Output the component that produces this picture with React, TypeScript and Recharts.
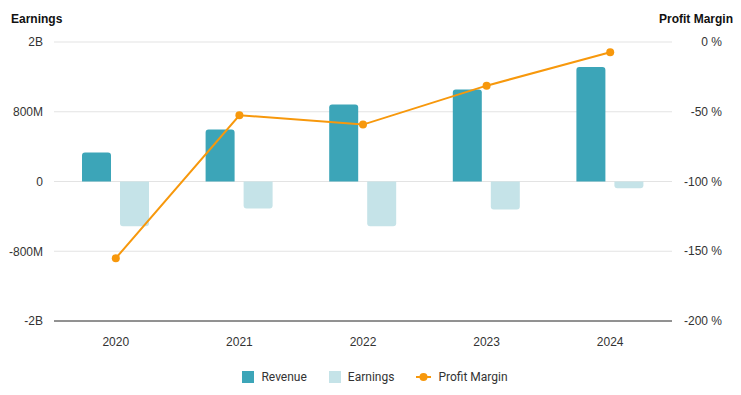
import React from 'react';
import {
  ComposedChart,
  Bar,
  Line,
  XAxis,
  YAxis,
  CartesianGrid,
  Legend,
} from 'recharts';

const years = ['2020', '2021', '2022', '2023', '2024'];
const revenue = [333e6, 597e6, 884e6, 1056e6, 1312e6];
const earnings = [-513e6, -310e6, -513e6, -321e6, -77e6];
const profitMargin = [-155, -52.5, -59.2, -31.3, -7.4];

const leftTicks = [-1.6e9, -8e8, 0, 8e8, 1.6e9];
const rightTicks = [-200, -150, -100, -50, 0];

const REVENUE = '#3ca5b8';
const EARNINGS = '#c5e3e8';
const MARGIN = '#f7980c';
const TEXT = '#333';

const chartData = years.map((year, i) => ({
  year,
  revenue: revenue[i],
  earnings: earnings[i],
  margin: profitMargin[i],
}));

function formatMoney(v: number) {
  if (v === 0) return '0';
  if (Math.abs(v) >= 1e9) return `${Math.round(v / 1e9)}B`;
  return `${Math.round(v / 1e6)}M`;
}

const tickStyle = { fontFamily: 'Arial, "Liberation Sans", sans-serif', fontSize: 12, fill: TEXT };

function RightTick(props: any) {
  const { x, y, payload } = props;
  return (
    <text
      x={x + 42}
      y={y}
      dy={4}
      textAnchor="end"
      {...tickStyle}
    >
      {`${payload.value} %`}
    </text>
  );
}

function LegendContent() {
  const items = [
    { name: 'Revenue', color: REVENUE, type: 'square' },
    { name: 'Earnings', color: EARNINGS, type: 'square' },
    { name: 'Profit Margin', color: MARGIN, type: 'line' },
  ];
  return (
    <div
      style={{
        display: 'flex',
        justifyContent: 'center',
        alignItems: 'center',
        height: 20,
        paddingLeft: 9,
        fontFamily: 'Roboto, sans-serif',
        fontSize: 12,
        color: TEXT,
      }}
    >
      {items.map((it) => (
        <div key={it.name} style={{ display: 'flex', alignItems: 'center', margin: '0 11px' }}>
          {it.type === 'square' ? (
            <span style={{ width: 12, height: 12, background: it.color, display: 'inline-block' }} />
          ) : (
            <svg width={15} height={12}>
              <line x1={0} y1={6} x2={15} y2={6} stroke={it.color} strokeWidth={2} />
              <circle cx={7.5} cy={6} r={4} fill={it.color} />
            </svg>
          )}
          <span style={{ marginLeft: 7 }}>{it.name}</span>
        </div>
      ))}
    </div>
  );
}

const titleStyle: React.CSSProperties = {
  position: 'absolute',
  top: 4,
  fontFamily: 'Arial, "Liberation Sans", sans-serif',
  fontWeight: 'bold',
  fontSize: 12,
  color: '#111',
  lineHeight: '14px',
};

export default function App() {
  return (
    <div style={{ position: 'relative', width: 725, height: 387 }}>
      <div style={{ ...titleStyle, left: 3 }}>Earnings</div>
      <div style={{ ...titleStyle, right: 0 }}>Profit Margin</div>
      <ComposedChart
        width={725}
        height={387}
        data={chartData}
        margin={{ top: 34, right: 0, bottom: 8, left: 0 }}
        barSize={29}
        barGap={9}
      >
        <CartesianGrid yAxisId="left" vertical={false} stroke="#e3e3e3" />
        <XAxis
          dataKey="year"
          height={46}
          tickLine={false}
          axisLine={{ stroke: '#333' }}
          tickMargin={10}
          tick={tickStyle}
        />
        <YAxis
          yAxisId="left"
          width={46}
          domain={[-1.6e9, 1.6e9]}
          ticks={leftTicks}
          tickFormatter={formatMoney}
          axisLine={false}
          tickLine={false}
          tickMargin={5}
          tick={tickStyle}
        />
        <YAxis
          yAxisId="right"
          orientation="right"
          width={61}
          domain={[-200, 0]}
          ticks={rightTicks}
          axisLine={false}
          tickLine={false}
          tick={<RightTick />}
        />
        <Legend verticalAlign="bottom" content={<LegendContent />} />
        <Bar
          yAxisId="left"
          dataKey="revenue"
          name="Revenue"
          fill={REVENUE}
          radius={[3, 3, 0, 0]}
          isAnimationActive={false}
        />
        <Bar
          yAxisId="left"
          dataKey="earnings"
          name="Earnings"
          fill={EARNINGS}
          radius={[3, 3, 0, 0]}
          isAnimationActive={false}
        />
        <Line
          yAxisId="right"
          dataKey="margin"
          name="Profit Margin"
          stroke={MARGIN}
          strokeWidth={2}
          dot={{ r: 4, fill: MARGIN, stroke: 'none' }}
          activeDot={false}
          isAnimationActive={false}
        />
      </ComposedChart>
    </div>
  );
}
